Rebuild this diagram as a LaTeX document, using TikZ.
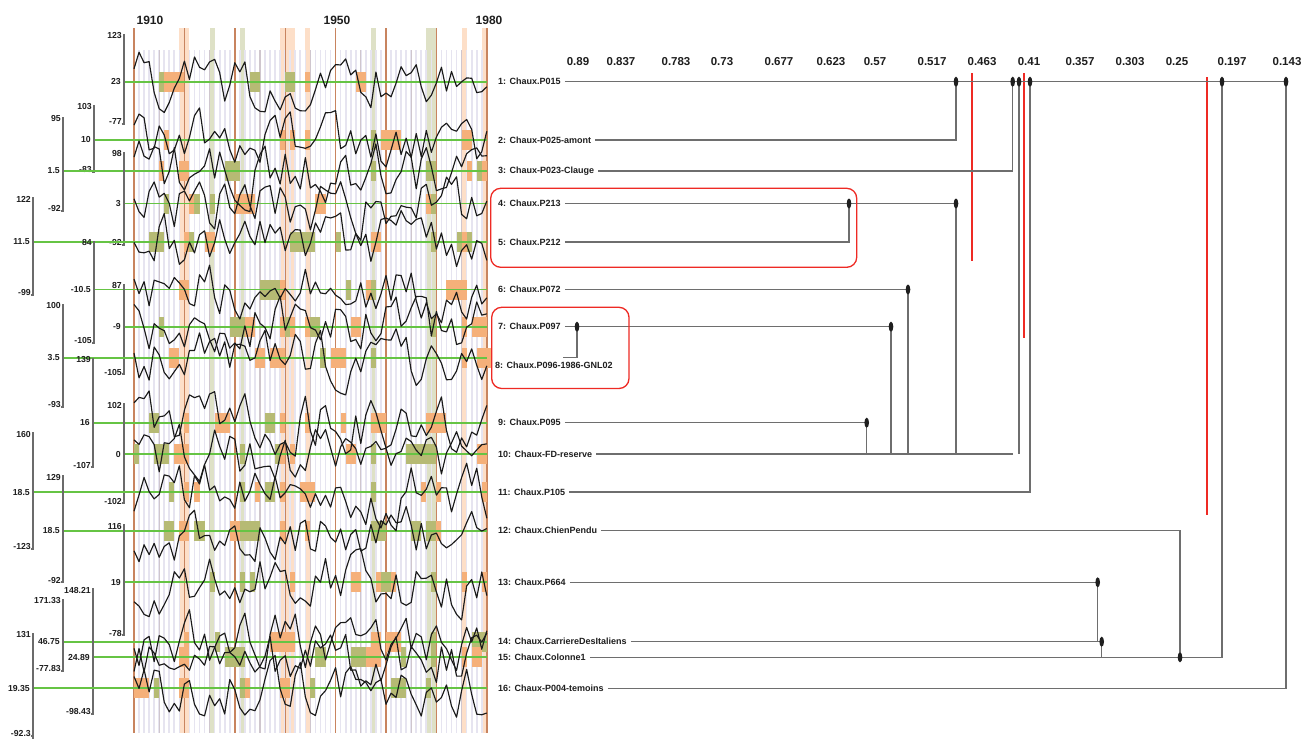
\documentclass[tikz,border=0pt]{standalone}
\usepackage{fontspec}
\setmainfont{Liberation Sans}
\usetikzlibrary{shapes.geometric}
\definecolor{yearc}{HTML}{E6E4F0}
\definecolor{yrfc}{HTML}{CFC6CE}
\definecolor{decc}{HTML}{C8845F}
\definecolor{stripeO}{HTML}{FDDFC8}
\definecolor{stripeG}{HTML}{DEE1C6}
\definecolor{blkO}{HTML}{F5B07A}
\definecolor{blkG}{HTML}{B6BA74}
\definecolor{gline}{HTML}{66C444}
\definecolor{serc}{HTML}{1A1A1A}
\definecolor{axc}{HTML}{6B6B6B}
\definecolor{dlc}{HTML}{6E6E6E}
\definecolor{redc}{HTML}{EE2A24}
\definecolor{txtc}{HTML}{1E1E1E}
\newcommand\mkser[2]{%
  \xdef\myserpts{}%
  \xdef\myserv{0}%
  \foreach \k in {0,...,70}{%
    \pgfmathsetmacro\myvn{0.45*\myserv+#2*rand}%
    \xdef\myserv{\myvn}%
    \pgfmathsetmacro\mypx{134+5.04*\k}%
    \pgfmathsetmacro\mypy{max(30,min(734,#1+\myvn))}%
    \xdef\myserpts{\myserpts(\mypx,\mypy)}%
  }%
}
\begin{document}
\begin{tikzpicture}[x=1pt,y=-1pt,
  yearln/.style={draw=yearc,line width=1.7pt},
  yrfln/.style={draw=yrfc,line width=1.1pt},
  decln/.style={draw=decc,line width=1.4pt},
  serln/.style={draw=serc,line width=1.15pt,line join=round},
  gln/.style={draw=gline,line width=1.7pt},
  axbar/.style={draw=axc,line width=1.7pt},
  axlab/.style={anchor=east,inner sep=0pt,font=\fontsize{8.7}{9}\selectfont\bfseries,text=txtc},
  yrlab/.style={inner sep=0pt,font=\fontsize{12}{13}\selectfont\bfseries,text=txtc},
  sclab/.style={inner sep=0pt,font=\fontsize{11.5}{12}\selectfont\bfseries,text=txtc},
  rowlab/.style={anchor=west,inner sep=0pt,font=\fontsize{9}{10}\selectfont\bfseries,text=txtc},
  dln/.style={draw=dlc,line width=1.4pt},
  mrg/.style={ellipse,fill=black!88,minimum width=4.6pt,minimum height=10pt,inner sep=0pt},
  redln/.style={draw=redc,line width=2.2pt},
  redbox/.style={draw=redc,line width=1.3pt,rounded corners=10pt}]
\useasboundingbox (0,0) rectangle (1304,739);
\fill[white] (0,0) rectangle (1304,739);
\pgfmathsetseed{20240}
% ---------- chart background ----------
\foreach \sy/\sc in {9/stripeO,10/stripeO,15/stripeG,21/stripeG,29/stripeO,30/stripeO,31/stripeO,34/stripeO,47/stripeG,58/stripeG,59/stripeG,65/stripeO,69/stripeO}{
  \fill[fill=\sc] ({134+5.04*\sy},28) rectangle ++(5.04,705);
}
\foreach \k in {0,...,70}{
  \draw[yearln] ({134+5.04*\k},50) -- ({134+5.04*\k},733);
}
\foreach \k in {5,15,...,65}{
  \draw[yrfln] ({134+5.04*\k},50) -- ({134+5.04*\k},733);
}
\foreach \k in {0,10,...,70}{
  \draw[decln] ({134+5.04*\k},28) -- ({134+5.04*\k},733);
}
% ---------- blocks ----------
\foreach \yy in {81.7,140,171,203.5,242,289.5,326.7,357.7,422.7,454,492,530.7,582.3,641.7,657.3,688.3}{
  \foreach \k in {0,...,68}{
    \pgfmathsetmacro\myr{rnd}
    \pgfmathsetmacro\myw{5.04*(1+int(rnd*2.6))}
    \ifdim\myr pt<0.06pt
      \fill[fill=blkO] ({134+5.04*\k},{\yy-10}) rectangle ++(\myw,20);
    \else\ifdim\myr pt<0.11pt
      \fill[fill=blkG] ({134+5.04*\k},{\yy-10}) rectangle ++(\myw,20);
    \fi\fi
  }
}
\foreach \sy/\sc in {9/blkO,10/blkO,15/blkG,21/blkG,29/blkO,31/blkO,34/blkO,47/blkG,58/blkG,59/blkG,65/blkO,69/blkO}{
  \foreach \yy in {81.7,140,171,203.5,242,289.5,326.7,357.7,422.7,454,492,530.7,582.3,641.7,657.3,688.3}{
    \pgfmathsetmacro\myr{rnd}
    \ifdim\myr pt<0.4pt
      \fill[fill=\sc] ({134+5.04*\sy},{\yy-10}) rectangle ++(5.04,20);
    \fi
  }
}
% ---------- year labels ----------
\node[yrlab] (y1910) at (150,20) {1910};
\node[yrlab] (y1950) at (337,20) {1950};
\node[yrlab] (y1980) at (489,20) {1980};
% ---------- left axes and green lines ----------
\foreach \i/\x/\t/\m/\b/\lt/\lm/\lb in {
  1/124/34/81.7/124/123/23/-77,
  2/94/105/140/172/103/10/-83,
  3/63/117/171/211/95/1.5/-92,
  4/124/152/203.5/245/98/3/-92,
  5/33/197/242/295/122/11.5/-99,
  6/94/241/289.5/343/84/-10.5/-105,
  7/124/284/326.7/374/87/-9/-105,
  8/63/304/357.7/407/100/3.5/-93,
  9/93/358/422.7/467/139/16/-107,
  10/124/403/454/503/102/0/-102,
  11/33/432/492/549/160/18.5/-123,
  12/63/475/530.7/582/129/18.5/-92,
  13/124/524/582.3/635/116/19/-78,
  14/63/599/641.7/671/171.33/46.75/-77.83,
  15/93/588/657.3/714/148.21/24.89/-98.43,
  16/33/633/688.3/736/131/19.35/-92.3}{
  \draw[gln] (\x,\m) -- (487,\m);
  \draw[axbar] ({\x-2.5},\b) -- (\x,\b) -- (\x,\t);
  \node[axlab] (at\i) at ({\x-2},{\t+2}) {\lt};
  \node[axlab] (am\i) at ({\x-3},\m) {\lm};
  \node[axlab] (ab\i) at ({\x-2},{\b-2}) {\lb};
}
\draw[axbar] (33,736) -- (33,739);
% ---------- series ----------
\foreach \yy in {81.7,140,171,203.5,242,289.5,326.7,357.7,422.7,454,492,530.7,582.3,641.7,657.3,688.3}{
  \mkser{\yy}{24}
  \edef\mytmp{\noexpand\draw[serln] plot coordinates {\myserpts};}
  \mytmp
}
% ---------- dendrogram scale ----------
\foreach \sx/\sl [count=\j] in {578/0.89,621/0.837,676/0.783,722/0.73,779/0.677,831/0.623,875/0.57,932/0.517,982/0.463,1029/0.41,1080/0.357,1130/0.303,1177/0.25,1232/0.197,1287/0.143}{
  \node[sclab] (s\j) at (\sx,62) {\sl};
}
% ---------- row labels ----------
\node[rowlab] (L1) at (498,81.7) {1: Chaux.P015};
\node[rowlab] (L2) at (498,140) {2: Chaux-P025-amont};
\node[rowlab] (L3) at (498,171) {3: Chaux-P023-Clauge};
\node[rowlab] (L4) at (498,203.5) {4: Chaux.P213};
\node[rowlab] (L5) at (498,242) {5: Chaux.P212};
\node[rowlab] (L6) at (498,289.5) {6: Chaux.P072};
\node[rowlab] (L7) at (498,326.7) {7: Chaux.P097};
\node[rowlab] (L8) at (495,365) {8: Chaux.P096-1986-GNL02};
\node[rowlab] (L9) at (498,422.7) {9: Chaux.P095};
\node[rowlab] (L10) at (498,454) {10: Chaux-FD-reserve};
\node[rowlab] (L11) at (498,492) {11: Chaux.P105};
\node[rowlab] (L12) at (498,530.7) {12: Chaux.ChienPendu};
\node[rowlab] (L13) at (498,582.3) {13: Chaux.P664};
\node[rowlab] (L14) at (498,641.7) {14: Chaux.CarriereDesItaliens};
\node[rowlab] (L15) at (498,657.3) {15: Chaux.Colonne1};
\node[rowlab] (L16) at (498,688.3) {16: Chaux-P004-temoins};
% merge points
\coordinate (mA) at (956,81.7);
\coordinate (mB) at (1012.7,81.7);
\coordinate (mC) at (1019,81.7);
\coordinate (mD) at (1030,81.7);
\coordinate (mE) at (1222,81.7);
\coordinate (mF) at (1286,81.7);
\coordinate (m45) at (849,203.5);
\coordinate (m4) at (956,203.5);
\coordinate (m6) at (908,289.5);
\coordinate (m7) at (891,326.7);
\coordinate (m78) at (577,326.7);
\coordinate (c8) at (563,357.7);
\coordinate (m9) at (866.7,422.7);
\coordinate (m13) at (1097.7,582.3);
\coordinate (m14) at (1101.7,641.7);
\coordinate (m12) at (1180,657.3);
% red guides
\draw[redln] (972,73) -- (972,261);
\draw[redln] (1024,73) -- (1024,338);
\draw[redln] (1207,77) -- (1207,515);
% dendrogram lines
\draw[dln] ([xshift=4pt]L1.east) -- (mF);
\draw[dln] ([xshift=4pt]L2.east) -| (mA);
\draw[dln] ([xshift=4pt]L3.east) -| (mB);
\draw[dln] ([xshift=4pt]L4.east) -- (m4);
\draw[dln] (m4) -- (m4 |- L10);
\draw[dln] ([xshift=4pt]L5.east) -| (m45);
\draw[dln] ([xshift=4pt]L6.east) -- (m6);
\draw[dln] (m6) -- (m6 |- L10);
\draw[dln] ([xshift=4pt]L7.east) -- (m7);
\draw[dln] (m7) -- (m7 |- L10);
\draw[dln] (c8) -| (m78);
\draw[dln] ([xshift=4pt]L9.east) -- (m9);
\draw[dln] (m9) -- (m9 |- L10);
\draw[dln] ([xshift=4pt]L10.east) -- (L10.east -| mB);
\draw[dln] (mC) -- (mC |- L10);
\draw[dln] ([xshift=4pt]L11.east) -| (mD);
\draw[dln] ([xshift=4pt]L12.east) -| (m12);
\draw[dln] ([xshift=4pt]L13.east) -- (m13);
\draw[dln] (m13) -- (m13 |- L14);
\draw[dln] ([xshift=4pt]L14.east) -- (m14);
\draw[dln] (m14) -- (m14 |- L15);
\draw[dln] ([xshift=4pt]L15.east) -| (mE);
\draw[dln] ([xshift=4pt]L16.east) -| (mF);
% merge markers
\foreach \c in {mA,mB,mC,mD,mE,mF,m45,m4,m6,m7,m78,m9,m13,m14,m12}{
  \node[mrg] (n\c) at (\c) {};
}
% red boxes
\draw[redbox] (490.7,188.3) rectangle (856.7,267.3);
\draw[redbox] (491.7,307.3) rectangle (629,388.5);
\end{tikzpicture}
\end{document}
